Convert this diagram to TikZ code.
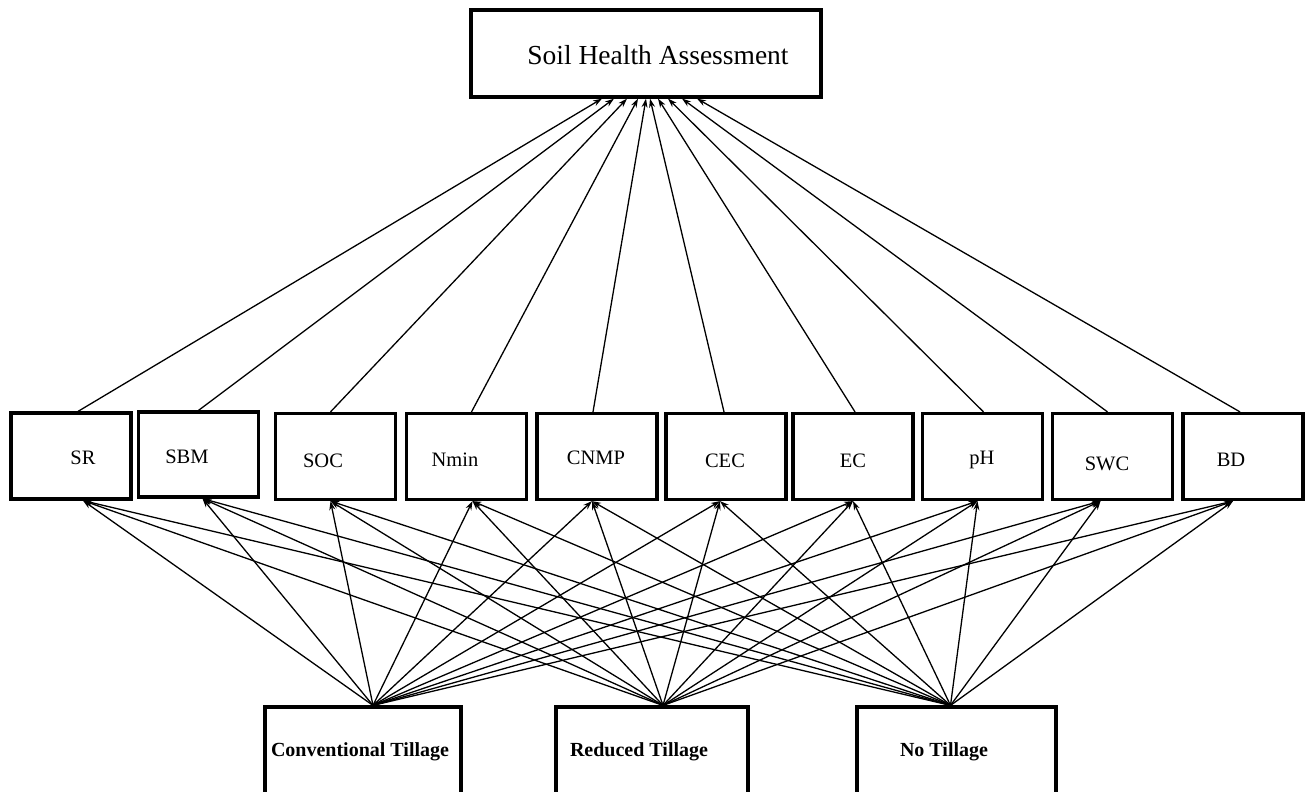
\documentclass[tikz,border=0pt]{standalone}
\usepackage{fontspec}
\setmainfont{Liberation Serif}
\usetikzlibrary{arrows.meta}
\begin{document}
\begin{tikzpicture}[x=1pt,y=-1pt,
  box/.style={draw=black,line width=3.2pt,fill=white,inner sep=0pt},
  mid/.style={box,minimum width=120pt,minimum height=86pt},
  bot/.style={box,minimum width=196pt,minimum height=90pt},
  lbl/.style={inner sep=0pt,font=\fontsize{20.5}{24}\selectfont},
  blbl/.style={inner sep=0pt,font=\fontsize{20}{24}\selectfont\bfseries},
  arr/.style={line width=1.3pt,-{Stealth[length=9pt,width=6pt]}}]
\useasboundingbox (0,0) rectangle (1306,792);
\begin{scope}
\clip (0,0) rectangle (1306,792);
% top box
\node[box,minimum width=350pt,minimum height=87pt] (sha) at (646,53.5) {};
\node[inner sep=0pt,font=\fontsize{27.5}{32}\selectfont] (shat) at (658,55) {Soil Health Assessment};
% middle boxes
\node[mid] (sr)   at (71,456) {};
\node[mid,minimum height=85pt] (sbm)  at (198.5,454.5) {};
\node[mid] (soc)  at (335.5,456.5) {};
\node[mid] (nmin) at (466.5,456.5) {};
\node[mid] (cnmp) at (597,456.5) {};
\node[mid] (cec)  at (726,456.5) {};
\node[mid] (ec)   at (853,456.5) {};
\node[mid] (ph)   at (982.5,456.5) {};
\node[mid] (swc)  at (1112.5,456.5) {};
\node[mid] (bd)   at (1243,456.5) {};
\node[lbl] (srt)   at (83,458) {SR};
\node[lbl] (sbmt)  at (187,457) {SBM};
\node[lbl] (soct)  at (323,461) {SOC};
\node[lbl] (nmint) at (455,460) {Nmin};
\node[lbl] (cnmpt) at (596,458) {CNMP};
\node[lbl] (cect)  at (725,461) {CEC};
\node[lbl] (ect)   at (853,461) {EC};
\node[lbl] (pht)   at (982,460) {pH};
\node[lbl] (swct)  at (1107,464) {SWC};
\node[lbl] (bdt)   at (1231,460) {BD};
% bottom boxes
\node[bot] (ct) at (363,752) {};
\node[bot,minimum width=192pt] (rt) at (652,752) {};
\node[bot,minimum width=199pt] (nt) at (956.5,752) {};
\node[blbl] (ctt) at (360,752) {Conventional Tillage};
\node[blbl] (rtt) at (639,752) {Reduced Tillage};
\node[blbl] (ntt) at (944,752) {No Tillage};
% arrows to the top box
\draw[arr] ([xshift=7pt]sr.north)   -- ([xshift=-44pt]sha.south);
\draw[arr] ([xshift=0pt]sbm.north)  -- ([xshift=-32pt]sha.south);
\draw[arr] ([xshift=-5pt]soc.north) -- ([xshift=-19pt]sha.south);
\draw[arr] ([xshift=5pt]nmin.north) -- ([xshift=-8pt]sha.south);
\draw[arr] ([xshift=-4pt]cnmp.north)-- ([xshift=0pt]sha.south);
\draw[arr] ([xshift=-2pt]cec.north) -- ([xshift=4pt]sha.south);
\draw[arr] ([xshift=2pt]ec.north)   -- ([xshift=12pt]sha.south);
\draw[arr] ([xshift=1pt]ph.north)   -- ([xshift=22pt]sha.south);
\draw[arr] ([xshift=-5pt]swc.north) -- ([xshift=36pt]sha.south);
\draw[arr] ([xshift=-3pt]bd.north)  -- ([xshift=51pt]sha.south);
% arrows from the tillage boxes
\foreach \s/\sx in {ct/10pt,rt/11pt,nt/-6pt}{
  \foreach \t/\tx in {sr/12pt,sbm/4pt,soc/-5pt,nmin/6pt,cnmp/-5pt,cec/-6pt,ec/0pt,ph/-5pt,swc/-12pt,bd/-10pt}{
    \draw[arr] ([xshift=\sx]\s.north) -- ([xshift=\tx]\t.south);
  }
}
\end{scope}
\end{tikzpicture}
\end{document}
